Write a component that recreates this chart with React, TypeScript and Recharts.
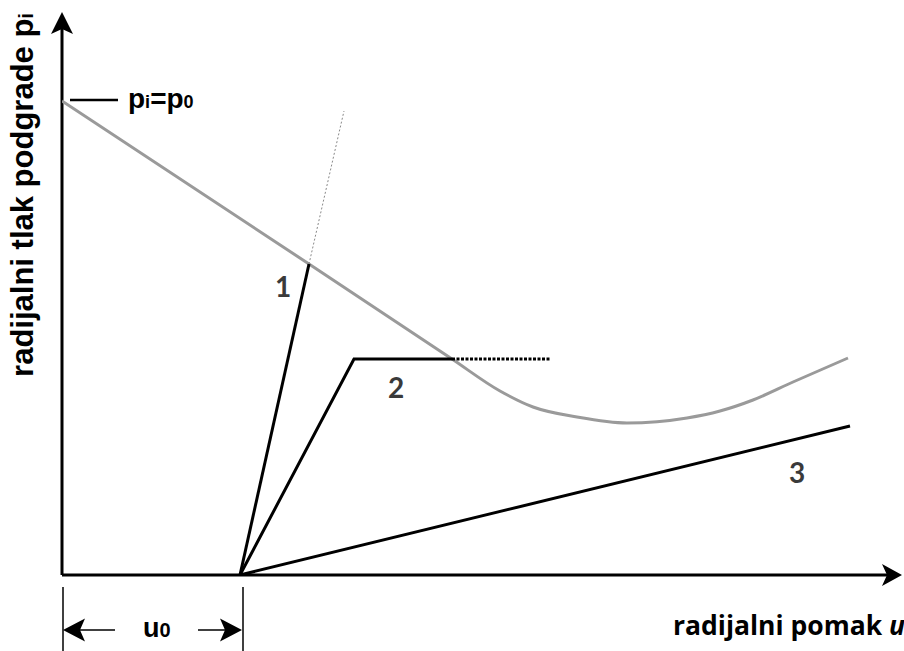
import React from 'react';
import { LineChart, Line, XAxis, YAxis, ReferenceLine, ReferenceDot } from 'recharts';

// ground reaction curve: radial support pressure p vs radial displacement u
const groundCurve = [
  { u: 0, p: 474 },
  { u: 247, p: 311 },
  { u: 390, p: 216 },
  { u: 438, p: 184 },
  { u: 471, p: 168 },
  { u: 515, p: 158 },
  { u: 565, p: 152 },
  { u: 625, p: 157 },
  { u: 658, p: 164 },
  { u: 691, p: 175 },
  { u: 731, p: 193 },
  { u: 786, p: 217 },
];

// support characteristic lines, all starting at u0
const support1 = [{ u: 178, p: 0 }, { u: 247, p: 311 }];
const support1Ext = [{ u: 247, p: 311 }, { u: 282, p: 464 }];
const support2 = [{ u: 178, p: 0 }, { u: 292, p: 216 }, { u: 390, p: 216 }];
const support2Ext = [{ u: 390, p: 216 }, { u: 489, p: 216 }];
const support3 = [{ u: 178, p: 0 }, { u: 788, p: 149 }];

const curveLabels = [
  { text: '1', u: 221, p: 278 },
  { text: '2', u: 334, p: 177 },
  { text: '3', u: 735, p: 92 },
];

const U0 = 178;
const P0 = 474;
const U_MAX = 840;
const P_MAX = 565;

const arrowLine = (len: number, half: number, notch: number, width: number) => (props: any) => {
  const { x1, y1, x2, y2 } = props;
  const dx = x2 - x1;
  const dy = y2 - y1;
  const d = Math.hypot(dx, dy) || 1;
  const ux = dx / d;
  const uy = dy / d;
  const bx = x2 - ux * len;
  const by = y2 - uy * len;
  const nx = x2 - ux * (len - notch);
  const ny = y2 - uy * (len - notch);
  const pts = `${x2},${y2} ${bx - uy * half},${by + ux * half} ${nx},${ny} ${bx + uy * half},${by - ux * half}`;
  return (
    <g>
      <line x1={x1} y1={y1} x2={nx} y2={ny} stroke="#000" strokeWidth={width} />
      <polygon points={pts} fill="#000" />
    </g>
  );
};

const plainLine = (width: number) => (props: any) => (
  <line x1={props.x1} y1={props.y1} x2={props.x2} y2={props.y2} stroke="#000" strokeWidth={width} />
);

const textAt = (content: React.ReactNode, style: React.CSSProperties, rotate = 0, anchor = 'start') => (props: any) => (
  <text
    x={props.cx}
    y={props.cy}
    textAnchor={anchor}
    transform={rotate ? `rotate(${rotate}, ${props.cx}, ${props.cy})` : undefined}
    style={style}
  >
    {content}
  </text>
);

const arialBold: React.CSSProperties = { fontFamily: '"Liberation Sans", Arial, sans-serif', fontWeight: 700, fill: '#000' };
const calibriLike: React.CSSProperties = { fontFamily: 'Lato, sans-serif', fontWeight: 700 };
const openBold: React.CSSProperties = { fontFamily: '"Open Sans", sans-serif', fontWeight: 700, fill: '#000' };

export default function App() {
  return (
    <div style={{ position: 'absolute', left: 0, top: 0, width: 904, height: 651, background: '#fff' }}>
      <LineChart width={904} height={651} margin={{ top: 10, left: 62, right: 2, bottom: 76 }}>
        <XAxis type="number" dataKey="u" domain={[0, U_MAX]} hide allowDataOverflow />
        <YAxis type="number" dataKey="p" domain={[0, P_MAX]} hide allowDataOverflow />

        {/* axes with arrow heads */}
        <ReferenceLine segment={[{ x: 0, y: 0 }, { x: 0, y: 563 }]} ifOverflow="visible" shape={arrowLine(22, 11, 5, 3)} />
        <ReferenceLine segment={[{ x: 0, y: 0 }, { x: U_MAX, y: 0 }]} ifOverflow="visible" shape={arrowLine(20, 11, 5, 3)} />

        <Line data={groundCurve} dataKey="p" type="monotone" stroke="#9a9a9a" strokeWidth={3} dot={false} activeDot={false} isAnimationActive={false} />
        <Line data={support1Ext} dataKey="p" type="linear" stroke="#8a8a8a" strokeWidth={1} strokeDasharray="2 2" dot={false} activeDot={false} isAnimationActive={false} />
        <Line data={support2Ext} dataKey="p" type="linear" stroke="#000" strokeWidth={3} strokeDasharray="3 1.5" dot={false} activeDot={false} isAnimationActive={false} />
        <Line data={support1} dataKey="p" type="linear" stroke="#000" strokeWidth={3} dot={false} activeDot={false} isAnimationActive={false} />
        <Line data={support2} dataKey="p" type="linear" stroke="#000" strokeWidth={3} dot={false} activeDot={false} isAnimationActive={false} />
        <Line data={support3} dataKey="p" type="linear" stroke="#000" strokeWidth={3} dot={false} activeDot={false} isAnimationActive={false} />

        {/* p_i = p_0 marker */}
        <ReferenceLine segment={[{ x: 8, y: P0 + 1 }, { x: 56, y: P0 + 1 }]} ifOverflow="visible" shape={plainLine(2.5)} />
        <ReferenceDot x={66} y={P0 - 7} r={0} ifOverflow="visible"
          shape={textAt(<>p<tspan fontSize={18}>i</tspan>=p<tspan fontSize={18}>0</tspan></>, { ...arialBold, fontSize: 28 })} />

        {/* u0 dimension */}
        <ReferenceLine segment={[{ x: 1, y: -12 }, { x: 1, y: -80 }]} ifOverflow="visible" shape={plainLine(1.5)} />
        <ReferenceLine segment={[{ x: U0 + 3, y: -12 }, { x: U0 + 3, y: -80 }]} ifOverflow="visible" shape={plainLine(1.5)} />
        <ReferenceLine segment={[{ x: 53, y: -55 }, { x: 1, y: -55 }]} ifOverflow="visible" shape={arrowLine(22, 11.5, 5, 1.5)} />
        <ReferenceLine segment={[{ x: 136, y: -55 }, { x: U0 + 2, y: -55 }]} ifOverflow="visible" shape={arrowLine(22, 11.5, 5, 1.5)} />
        <ReferenceDot x={81} y={-62} r={0} ifOverflow="visible"
          shape={textAt(<>u<tspan fontSize={20}>0</tspan></>, { ...arialBold, fontSize: 27 })} />

        {curveLabels.map((l) => (
          <ReferenceDot key={l.text} x={l.u} y={l.p} r={0} ifOverflow="visible"
            shape={textAt(l.text, { ...calibriLike, fontSize: 28, fill: '#3a3a3a' }, 0, 'middle')} />
        ))}

        {/* axis titles */}
        <ReferenceDot x={-29} y={380} r={0} ifOverflow="visible"
          shape={textAt(<>radijalni tlak podgrade p<tspan fontSize={20}>i</tspan></>, { ...arialBold, fontSize: 31 }, -90, 'middle')} />
        <ReferenceDot x={611} y={-60} r={0} ifOverflow="visible"
          shape={textAt(<>radijalni pomak <tspan fontStyle="italic">u</tspan></>, { ...openBold, fontSize: 26.5 })} />
      </LineChart>
    </div>
  );
}
